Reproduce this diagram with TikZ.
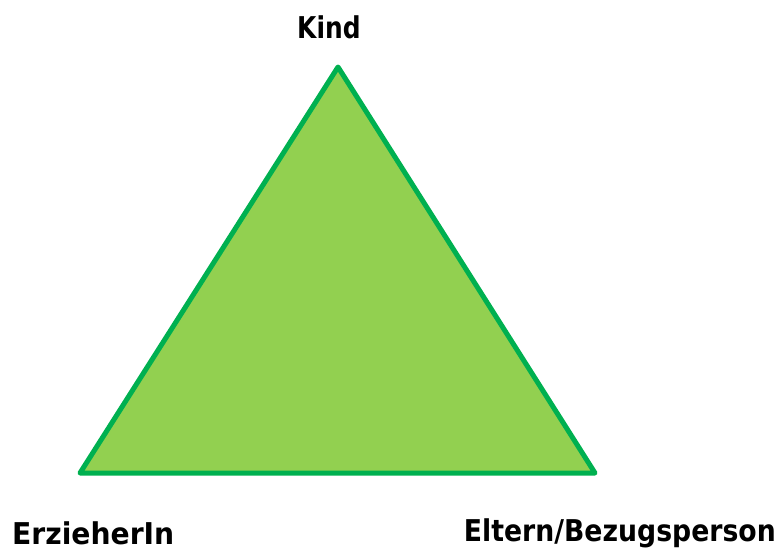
\documentclass[tikz,border=0pt]{standalone}
\usepackage{fontspec}
\setmainfont{DejaVu Sans}
\definecolor{trifill}{HTML}{92D050}
\definecolor{triline}{HTML}{00B050}
\begin{document}
\begin{tikzpicture}[x=1pt,y=-1pt,
  lbl/.style={font=\bfseries\fontsize{30}{34}\selectfont, inner sep=0pt}]
\useasboundingbox (0,0) rectangle (779,552);
\coordinate (top) at (338,67);
\coordinate (bl) at (80,473);
\coordinate (br) at (595,473);
\filldraw[fill=trifill, draw=triline, line width=5pt, line join=round] (top) -- (bl) -- (br) -- cycle;
\node[lbl, anchor=base west] (kind) at (297,38) {\scalebox{0.83}[1]{Kind}};
\node[lbl, anchor=base west] (erz) at (12,544) {\scalebox{0.94}[1]{ErzieherIn}};
\node[lbl, anchor=base east] (elt) at (776,541) {\scalebox{0.89}[1]{Eltern/Bezugsperson}};
\end{tikzpicture}
\end{document}
